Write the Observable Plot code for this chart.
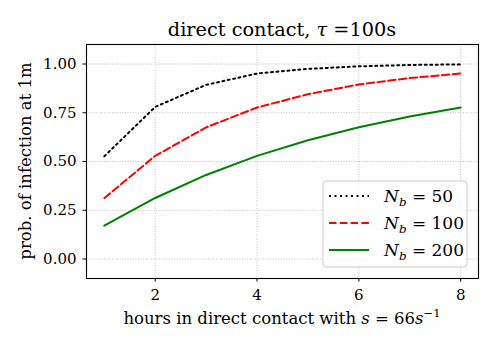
<!DOCTYPE html>
<html><head><meta charset="utf-8">
<script src="https://cdn.jsdelivr.net/npm/d3@7"></script>
<script src="https://cdn.jsdelivr.net/npm/@observablehq/plot@0.6"></script>
<style>
body{margin:0;background:#fff;}
#chart{width:498px;height:349px;position:relative;}
</style></head><body><div id="chart"></div>
<script>
// ---- data ----
const hours = [1, 2, 3, 4, 5, 6, 7, 8];
const nb50  = [0.527, 0.780, 0.893, 0.951, 0.975, 0.988, 0.995, 0.998];
const nb100 = [0.312, 0.529, 0.675, 0.777, 0.845, 0.895, 0.928, 0.951];
const nb200 = [0.171, 0.313, 0.431, 0.529, 0.609, 0.676, 0.731, 0.777];
const seriesNb = ["50", "100", "200"];
const seriesColors = ["black", "red", "green"];
const seriesDash = ["2,3.5", "7.5,3.3", null];
const xTicks = [2, 4, 6, 8];
const yTicks = [0, 0.25, 0.5, 0.75, 1];
const titleParts = [{t: "direct contact, "}, {t: "τ", i: true}, {t: " =100s"}];
const xLabelParts = [{t: "hours in direct contact with "}, {t: "s", i: true}, {t: " = 66"}, {t: "s", i: true}, {t: "−1", sup: true}];
const yLabel = "prob. of infection at 1m";

const seriesValues = [nb50, nb100, nb200];
const rows = seriesValues.flatMap((vals, s) => hours.map((h, k) => ({h, p: vals[k], s})));

const FONT = "'DejaVu Serif', serif";

const lineMarks = seriesValues.map((_, s) =>
  Plot.line(rows.filter(d => d.s === s), {
    x: "h", y: "p",
    stroke: seriesColors[s], strokeWidth: 2,
    strokeDasharray: seriesDash[s] || undefined
  })
);

const svg = Plot.plot({
  width: 498, height: 349,
  marginLeft: 86, marginRight: 20, marginTop: 44, marginBottom: 71,
  x: {domain: [0.65, 8.35]},
  y: {domain: [-0.1, 1.1]},
  style: {fontFamily: FONT, fontSize: "15px", background: "white", color: "black"},
  marks: [
    Plot.gridX(xTicks, {stroke: "#b0b0b0", strokeOpacity: 1, strokeWidth: 0.8, strokeDasharray: "1,1.6"}),
    Plot.gridY(yTicks, {stroke: "#b0b0b0", strokeOpacity: 1, strokeWidth: 0.8, strokeDasharray: "1,1.6"}),
    Plot.axisX(xTicks, {tickSize: 3.5, tickPadding: 7, label: null, fontSize: 15, fontFamily: FONT, stroke: "black", strokeWidth: 1}),
    Plot.axisY(yTicks, {tickSize: 3.5, tickPadding: 6.5, label: null, fontSize: 15, fontFamily: FONT, tickFormat: d3.format(".2f"), stroke: "black", strokeWidth: 1}),
    ...lineMarks,
    Plot.frame({stroke: "black", strokeWidth: 1.1})
  ]
});

document.getElementById("chart").appendChild(svg);

// ---- text helpers (real text with tspans) ----
const root = d3.select(svg);
root.selectAll("text").attr("font-family", FONT);
function addRich(x, y, parts, size, anchor = "middle", transform = null) {
  const t = root.append("text")
    .attr("x", x).attr("y", y)
    .attr("text-anchor", anchor)
    .attr("font-family", FONT)
    .attr("font-size", size)
    .attr("fill", "black");
  if (transform) t.attr("transform", transform);
  let shift = 0;
  parts.forEach(p => {
    const ts = t.append("tspan").text(p.t);
    if (p.i) ts.attr("font-style", "italic");
    let target = 0;
    if (p.sup) { target = -0.42 * size; ts.attr("font-size", size * 0.7); }
    if (p.sub) { target = 0.22 * size; ts.attr("font-size", size * 0.7); }
    if (target !== shift) { ts.attr("dy", target - shift); shift = target; }
  });
  return t;
}

// title
addRich(282, 36, titleParts, 19.3);
// x label
addRich(282, 324, xLabelParts, 16.5);
// y label
addRich(0, 0, [{t: yLabel}], 16.5, "middle", "translate(31,161) rotate(-90)");

// legend
const lg = root.append("g");
lg.append("rect").attr("x", 323).attr("y", 181).attr("width", 144).attr("height", 86)
  .attr("rx", 3).attr("fill", "white").attr("fill-opacity", 0.85)
  .attr("stroke", "#cccccc").attr("stroke-width", 1);
seriesNb.forEach((n, s) => {
  const yy = 196 + s * 27;
  lg.append("line").attr("x1", 329).attr("x2", 369).attr("y1", yy).attr("y2", yy)
    .attr("stroke", seriesColors[s]).attr("stroke-width", 2)
    .attr("stroke-dasharray", seriesDash[s]);
  addRich(384, yy + 6, [{t: "N", i: true}, {t: "b", i: true, sub: true}, {t: " = " + n}], 17, "start");
});
</script></body></html>
